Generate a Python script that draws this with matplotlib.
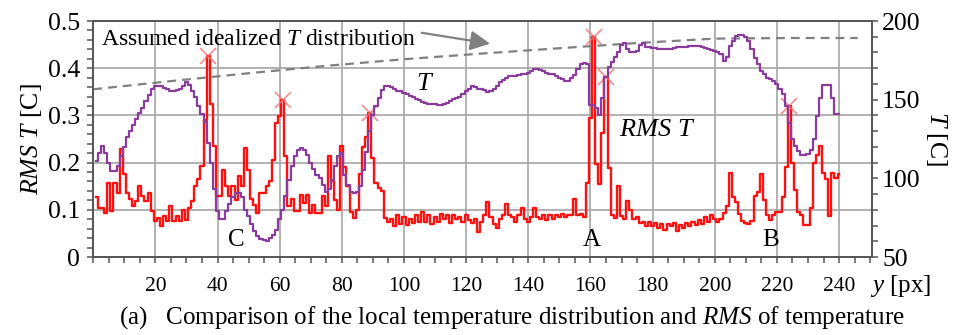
import numpy as np
import matplotlib
matplotlib.use('Agg')
from matplotlib import pyplot as plt

#==============================================================================
# data (x in px, RMS T in C, T in C)

rms_t = [0.127, 0.104, 0.104, 0.094, 0.157, 0.097, 0.157, 0.136, 0.228, 0.175,
         0.136, 0.122, 0.108, 0.118, 0.150, 0.129, 0.118, 0.136, 0.097, 0.076,
         0.083, 0.065, 0.086, 0.076, 0.108, 0.076, 0.086, 0.076, 0.100, 0.079,
         0.104, 0.118, 0.150, 0.165, 0.192, 0.290, 0.425, 0.325, 0.235, 0.130,
         0.130, 0.184, 0.150, 0.130, 0.150, 0.121, 0.171, 0.150, 0.231, 0.185,
         0.122, 0.111, 0.094, 0.136, 0.136, 0.150, 0.160, 0.206, 0.284, 0.298,
         0.333, 0.213, 0.108, 0.122, 0.097, 0.097, 0.132, 0.115, 0.132, 0.094,
         0.111, 0.094, 0.094, 0.129, 0.108, 0.215, 0.160, 0.120, 0.100, 0.236,
         0.190, 0.150, 0.095, 0.082, 0.100, 0.175, 0.234, 0.255, 0.306, 0.210,
         0.157, 0.146, 0.140, 0.083, 0.075, 0.080, 0.065, 0.090, 0.070, 0.085,
         0.068, 0.080, 0.072, 0.090, 0.075, 0.095, 0.075, 0.088, 0.070, 0.085,
         0.075, 0.092, 0.080, 0.088, 0.072, 0.090, 0.080, 0.085, 0.075, 0.088,
         0.078, 0.072, 0.080, 0.054, 0.075, 0.090, 0.116, 0.085, 0.070, 0.062,
         0.080, 0.090, 0.113, 0.090, 0.085, 0.075, 0.090, 0.104, 0.080, 0.075,
         0.085, 0.104, 0.085, 0.080, 0.090, 0.078, 0.088, 0.080, 0.088, 0.085,
         0.092, 0.085, 0.090, 0.088, 0.122, 0.090, 0.092, 0.085, 0.157, 0.294,
         0.467, 0.196, 0.154, 0.263, 0.382, 0.189, 0.090, 0.083, 0.150, 0.087,
         0.080, 0.118, 0.100, 0.080, 0.085, 0.073, 0.075, 0.065, 0.075, 0.065,
         0.072, 0.062, 0.070, 0.058, 0.070, 0.065, 0.072, 0.056, 0.068, 0.062,
         0.072, 0.066, 0.075, 0.068, 0.078, 0.070, 0.085, 0.075, 0.090, 0.080,
         0.075, 0.080, 0.093, 0.107, 0.178, 0.128, 0.117, 0.092, 0.076, 0.072,
         0.070, 0.076, 0.130, 0.137, 0.175, 0.120, 0.090, 0.078, 0.090, 0.095,
         0.095, 0.128, 0.190, 0.320, 0.200, 0.143, 0.095, 0.090, 0.067, 0.067,
         0.103, 0.200, 0.217, 0.236, 0.178, 0.165, 0.087, 0.178, 0.168, 0.176]

temp = [110.8, 116, 120.8, 116, 110, 104.5, 104.5, 108, 114, 120,
        126, 130, 134, 138, 141.5, 145, 149, 153, 157, 158.8,
        158.8, 158.5, 157.5, 156.5, 155.6, 155.6, 156.2, 157, 159, 161.5,
        159.5, 155.6, 152, 146, 141, 136, 122.5, 110, 93, 79,
        74, 74, 79, 83.4, 88, 90.8, 90.8, 88, 80, 76,
        70.7, 66.5, 63.3, 61.2, 60.5, 60.1, 61.8, 64, 67, 73.9,
        80, 88.7, 99, 107.7, 114, 118, 119.3, 118, 115, 110,
        106, 102.4, 100, 96, 91, 93, 99, 108, 114, 116,
        102, 96, 91, 90.8, 91, 95, 105, 117, 130, 140,
        146, 151, 156, 158.5, 158.7, 158, 156.5, 155.5, 155.5, 154.5,
        153.5, 152.5, 151.5, 150.5, 149.5, 148.5, 148, 147.5, 147, 147,
        146.5, 146.5, 147, 148, 149, 150.5, 151.3, 152, 153.5, 155.5,
        157, 159, 158, 156.5, 157, 156, 155, 155.5, 157, 159,
        161.3, 162.5, 164, 165, 165, 165, 165.5, 166, 166.5, 167.2,
        168, 169.4, 169.4, 169, 168, 167, 166.5, 166.2, 165, 163.7,
        163, 162, 162, 163.5, 165.8, 169.4, 172.8, 173.6, 172.8, 146.8,
        146.8, 145, 140.4, 151, 164.7, 171, 174, 177.4, 180.6, 184.8,
        186, 182, 180, 180.5, 181, 184.8, 186, 183.5, 183.7, 183,
        183, 182.5, 182, 182, 182, 182.3, 183, 183.3, 183.7, 183.7,
        183.5, 184, 184.4, 184.4, 184, 183.5, 183, 182, 181.5, 181,
        180.5, 179, 174.6, 177, 184, 187.4, 190.6, 191.2, 191.2, 190,
        187.4, 182, 176.8, 172.6, 168.3, 166, 164, 163, 161.9, 159.8,
        156.6, 153.4, 146, 135, 124.7, 120.5, 117.3, 115.1, 115.1, 115.5,
        118.3, 124.7, 139.5, 151.3, 159.1, 159.1, 159.1, 151.3, 140.6, 140.6]

y_px = np.arange(1, len(rms_t) + 1)

# assumed idealized T distribution
ideal_x = [0, 25, 50, 75, 100, 125, 150, 175, 200, 225, 246]
ideal_t = [156.6, 161.8, 166.8, 171.5, 175.7, 179.3, 182.7, 186.0, 188.8, 189.2, 189.2]

# local RMS peaks marked with x
peak_x = [37, 61, 89, 161, 165, 224]

#==============================================================================

plt.rcParams['font.family'] = 'Liberation Serif'
plt.rcParams['mathtext.fontset'] = 'custom'
plt.rcParams['mathtext.rm'] = 'Liberation Serif'
plt.rcParams['mathtext.it'] = 'Liberation Serif:italic'

c_axis = '#555555'
c_grid = '#a6a6a6'

fig = plt.figure(figsize=(9.55, 3.35), dpi=100)
ax = fig.add_axes([93.2/955, 1-257/335, (871.7-93.2)/955, (257-21)/335])
ax2 = ax.twinx()

ax.set_xlim(0, 250.5)
ax.set_ylim(0, 0.5)
ax2.set_ylim(50, 200)

ax.set_xticks(np.arange(20, 241, 20))
ax.set_xticks(np.arange(0, 251, 5), minor=True)
ax.set_yticks(np.arange(0, 0.51, 0.1))
ax.set_yticklabels(['0', '0.1', '0.2', '0.3', '0.4', '0.5'])
ax.set_yticks(np.arange(0, 0.501, 0.02), minor=True)
ax2.set_yticks([50, 100, 150, 200])
ax2.set_yticks(np.arange(50, 201, 10), minor=True)

ax.grid(True, which='major', color=c_grid, lw=1.2)
ax.set_axisbelow(True)

for a in (ax, ax2):
    for s in a.spines.values():
        s.set_color(c_axis)
        s.set_linewidth(1.2)
    a.tick_params(which='both', direction='out', length=4.5, width=1.1, color=c_axis)
ax.tick_params(axis='y', labelsize=18.5, pad=5)
ax.tick_params(axis='x', labelsize=15.5, pad=10)
ax2.tick_params(axis='y', labelsize=18.5, pad=3)

# lines
ax.plot(y_px, rms_t, color='#ff1010', lw=1.7, drawstyle='steps-mid', zorder=3)
ax.plot(peak_x, [rms_t[p-1] for p in peak_x], 'x', color='#f07070', ms=12, mew=1.2, alpha=0.8, zorder=4)
ax2.plot(y_px, temp, color='#8a3c9c', lw=1.6, drawstyle='steps-mid', zorder=3)
ax2.plot(ideal_x, ideal_t, color='#808080', lw=1.6, ls=(0, (4, 2.7)), zorder=2)

ax.set_ylabel(r'$\mathit{RMS}$ $\mathit{T}$ [C]', fontsize=18.5, labelpad=3)
ax2.set_ylabel(r'$\mathit{T}$ [C]', fontsize=18.5, rotation=270, labelpad=20)

# annotations
ax.text(2.5, 0.46, r'Assumed idealized $\mathit{T}$ distribution', fontsize=17, va='center')
ax.annotate('', xy=(128.6, 0.451), xytext=(104.8, 0.476),
            arrowprops=dict(arrowstyle='-|>,head_length=0.6,head_width=0.3',
                            color='#808080', lw=1.6, mutation_scale=20))
ax.text(106.8, 0.366, r'$\mathit{T}$', fontsize=19, ha='center', va='center')
ax.text(181.5, 0.27, r'$\mathit{RMS}$ $\mathit{T}$', fontsize=19, ha='center', va='center')
ax.text(46, 0.035, 'C', fontsize=18, ha='center', va='center')
ax.text(160.5, 0.037, 'A', fontsize=18, ha='center', va='center')
ax.text(218, 0.037, 'B', fontsize=18, ha='center', va='center')

fig.text(870/955, 1-286/335, r'$\mathit{y}$ [px]', fontsize=18, va='center')
fig.text(512/955, 1-318/335,
         r'(a)   Comparison of the local temperature distribution and $\mathit{RMS}$ of temperature',
         fontsize=18, ha='center', va='center')

fig.savefig('out.png', dpi=100)
